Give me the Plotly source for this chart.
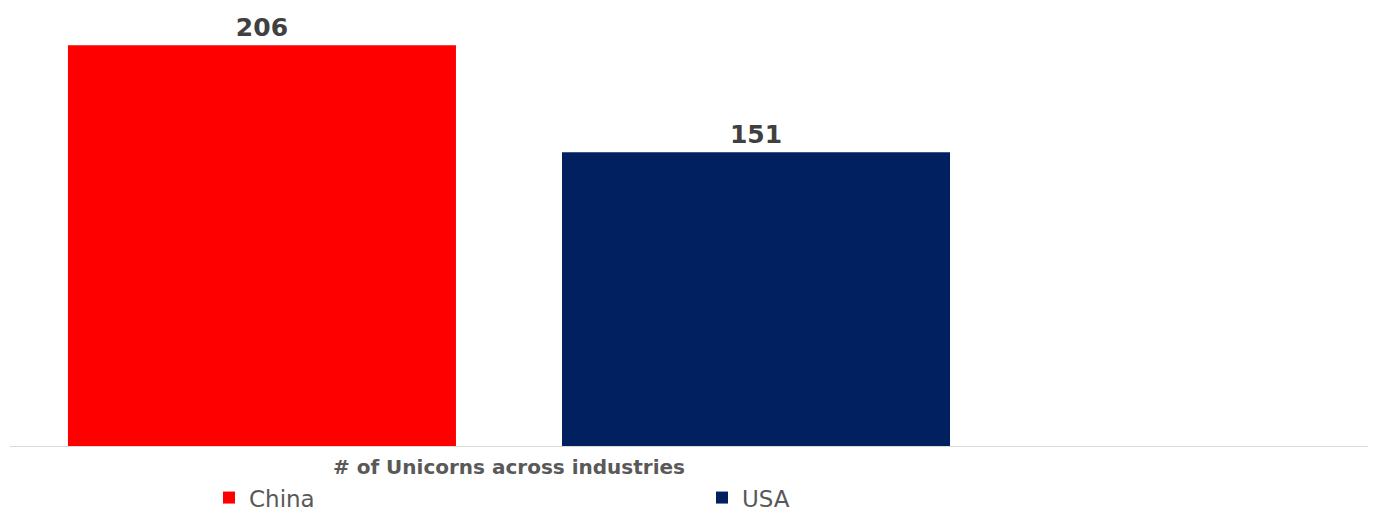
import plotly.graph_objects as go

category = ["# of Unicorns across industries"]
series_names = ["China", "USA"]
china_values = [206]
usa_values = [151]
colors = {"China": "#FF0000", "USA": "#002060"}

fig = go.Figure()
for name, vals in [("China", china_values), ("USA", usa_values)]:
    fig.add_trace(go.Bar(
        name=name, x=category, y=vals,
        marker=dict(color=colors[name], line=dict(width=0)),
        text=[str(v) for v in vals], textposition="outside",
        textfont=dict(family="DejaVu Sans", size=25, color="#404040", weight="bold"),
        cliponaxis=False,
    ))

fig.update_layout(
    width=1375, height=513,
    margin=dict(l=10, r=7, t=0, b=67, autoexpand=False),
    paper_bgcolor="white", plot_bgcolor="white",
    barmode="group", bargap=0.2, bargroupgap=0.2146,
    showlegend=True,
    legend=dict(orientation="h", xref="container", yref="container",
                x=0.152, y=0.03, xanchor="left", yanchor="middle",
                entrywidth=448, entrywidthmode="pixels",
                font=dict(family="DejaVu Sans", size=23, color="#595959"),
                bgcolor="rgba(0,0,0,0)"),
    xaxis=dict(range=[-0.404, 0.6955], showline=True, linecolor="#D9D9D9", linewidth=1,
               ticks="", showgrid=False, zeroline=False, ticklabelstandoff=3,
               tickfont=dict(family="DejaVu Sans", size=20, color="#595959", weight="bold")),
    yaxis=dict(range=[0, 229.3], visible=False, showgrid=False, zeroline=False),
)

fig.write_html("out.html")
